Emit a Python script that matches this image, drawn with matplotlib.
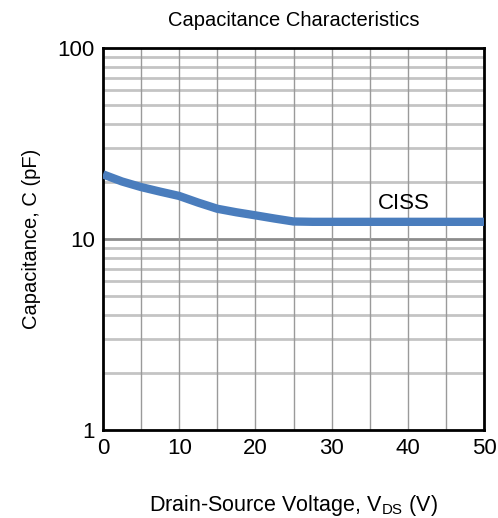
import matplotlib
matplotlib.use("Agg")
import matplotlib.pyplot as plt
import numpy as np

plt.rcParams['font.family'] = ['Liberation Sans', 'DejaVu Sans']
plt.rcParams['mathtext.fontset'] = 'custom'
plt.rcParams['mathtext.rm'] = 'Liberation Sans'

vds = [0, 2.5, 5, 7.5, 10, 12.5, 15, 17.5, 20, 22.5, 25, 27.5, 30, 35, 40, 45, 50]
ciss = [21.8, 20.0, 18.7, 17.7, 16.8, 15.5, 14.4, 13.8, 13.3, 12.8, 12.35, 12.3, 12.3, 12.3, 12.3, 12.3, 12.3]

xticks = [0, 10, 20, 30, 40, 50]
yticks = [1, 10, 100]
ytick_labels = ['1', '10', '100']

fig = plt.figure(figsize=(4.98, 5.18), dpi=100)
ax = fig.add_axes([103/498, 1-430/518, (484-103)/498, (430-48)/518])

ax.set_yscale('log')
ax.set_xlim(0, 50)
ax.set_ylim(1, 100)

# grid
for d in [1, 10]:
    for m in range(2, 10):
        ax.axhline(d*m, color='#c4c4c4', lw=2.0, zorder=1)
ax.axhline(10, color='#8c8c8c', lw=2.0, zorder=1)
for xv in np.arange(5, 50, 5):
    ax.axvline(xv, color='#9a9a9a', lw=1.0, zorder=1)

ax.plot(vds, ciss, color='#4a7dbd', lw=6.0, solid_capstyle='butt',
        solid_joinstyle='round', zorder=3)
ax.text(39.5, 15.4, 'CISS', fontsize=16, ha='center', va='center', zorder=4)

ax.set_xticks(xticks)
ax.set_yticks(yticks)
ax.set_yticklabels(ytick_labels)
ax.minorticks_off()
ax.tick_params(length=0, labelsize=16, pad=6)
for s in ax.spines.values():
    s.set_linewidth(2.0)
    s.set_color('black')

ax.set_title('Capacitance Characteristics', fontsize=14.5, pad=16)
ax.set_xlabel(r'Drain-Source Voltage, V$_{\mathregular{DS}}$ (V)', fontsize=15.5, labelpad=24)
ax.set_ylabel('Capacitance, C (pF)', fontsize=14.5, labelpad=12)

fig.savefig('out.png', dpi=100)
